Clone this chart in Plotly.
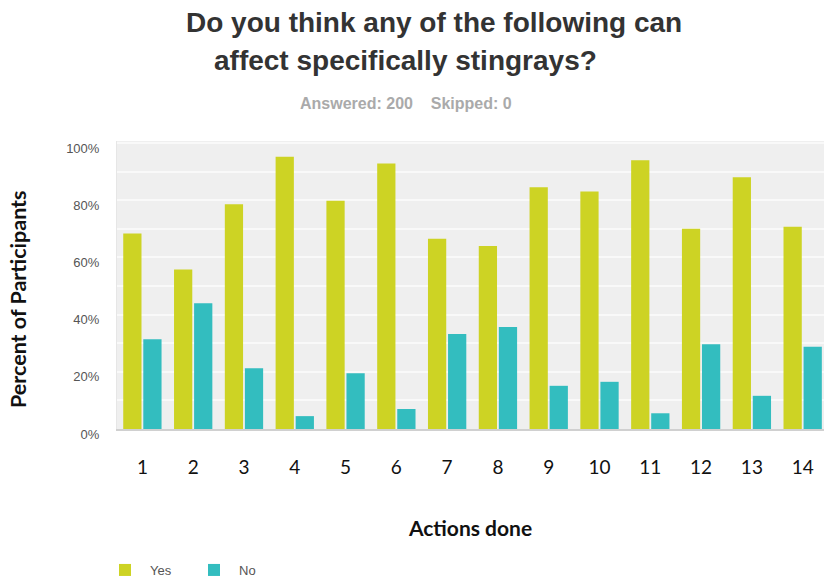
import plotly.graph_objects as go

actions = [1, 2, 3, 4, 5, 6, 7, 8, 9, 10, 11, 12, 13, 14]
yes_pct = [68.4, 55.8, 78.6, 95.2, 79.8, 92.8, 66.5, 64.0, 84.5, 83.0, 94.0, 70.0, 88.0, 70.7]
no_pct = [31.4, 44.0, 21.2, 4.5, 19.5, 7.0, 33.2, 35.7, 15.1, 16.5, 5.5, 29.6, 11.6, 28.8]
y_ticks = [0, 20, 40, 60, 80, 100]
y_tick_labels = ["0%", "20%", "40%", "60%", "80%", "100%"]

W, H = 824, 581
L, R, T, B = 117, 0, 141, 152
PW, PH = W - L - R, H - T - B


def px_to_paper(xp, yp):
    return (xp - L) / PW, (H - B - yp) / PH


fig = go.Figure()
fig.add_trace(go.Bar(x=actions, y=yes_pct, name="Yes", marker=dict(color="#CDD324", line=dict(width=0))))
fig.add_trace(go.Bar(x=actions, y=no_pct, name="No", marker=dict(color="#33BDBF", line=dict(width=0))))

fig.update_layout(
    width=W, height=H,
    margin=dict(l=L, r=R, t=T, b=B, pad=0),
    paper_bgcolor="white",
    plot_bgcolor="#EFEFEF",
    barmode="group",
    bargap=0.21,
    bargroupgap=0.09,
    title=dict(
        text="<b>Do you think any of the following can</b>",
        x=186 / W, xanchor="left", xref="container",
        y=1 - 22 / H, yanchor="middle", yref="container",
        font=dict(family="Liberation Sans, Arial", size=28, color="#333333"),
    ),
    showlegend=True,
    legend=dict(
        orientation="h",
        x=100 / W, xref="container", xanchor="left",
        y=1 - 555 / H, yref="container", yanchor="top",
        font=dict(family="Liberation Sans, Arial", size=13, color="#555555"),
        itemwidth=40,
        entrywidth=34,
        traceorder="normal",
    ),
    font=dict(family="Liberation Sans, Arial"),
)

fig.update_xaxes(
    range=[0.5, 14.42],
    tickmode="array", tickvals=actions, ticktext=[str(a) for a in actions],
    tickfont=dict(family="Lato, Open Sans", size=19, color="#111111"),
    ticks="outside", ticklen=0, tickcolor="rgba(0,0,0,0)",
    ticklabelstandoff=20,
    showgrid=False, zeroline=False,
    showline=True, linecolor="#D0D0D0", linewidth=1.5,
    title=dict(text="<b>Actions done</b>", font=dict(family="Lato, Open Sans", size=21, color="#111111"), standoff=45),
)
fig.update_yaxes(
    range=[0, 100.7],
    tickmode="array", tickvals=y_ticks, ticktext=y_tick_labels,
    tickfont=dict(family="Liberation Sans, Arial", size=13, color="#555555"),
    ticks="outside", ticklen=0, tickcolor="rgba(0,0,0,0)",
    ticklabelstandoff=14,
    ticklabelshift=5,
    showgrid=True, gridcolor="#F9F9F9", gridwidth=2,
    minor=dict(dtick=10, showgrid=True, gridcolor="#F9F9F9", gridwidth=2),
    zeroline=False,
    showline=True, linecolor="#E6E6E6", linewidth=1,
)

# y-axis title (placed slightly below the plot's vertical centre, as in the original)
xt, yt = px_to_paper(18, 299)
fig.add_annotation(
    text="<b>Percent of Participants</b>", textangle=-90,
    x=xt, y=yt, xref="paper", yref="paper", xanchor="center", yanchor="middle",
    showarrow=False, font=dict(family="Lato, Open Sans", size=21.5, color="#111111"),
)

x2, y2 = px_to_paper(212, 60)
fig.add_annotation(
    text="<b>affect specifically stingrays?</b>",
    x=x2, y=y2, xref="paper", yref="paper", xanchor="left", yanchor="middle",
    showarrow=False, font=dict(family="Liberation Sans, Arial", size=28, color="#333333"),
)

xs, ys = px_to_paper(406, 103)
fig.add_annotation(
    text="<b>Answered: 200&nbsp;&nbsp;&nbsp;&nbsp;Skipped: 0</b>",
    x=xs, y=ys, xref="paper", yref="paper", xanchor="center", yanchor="middle",
    showarrow=False, font=dict(family="Liberation Sans, Arial", size=16, color="#AAAAAA"),
)

fig.write_html("out.html")
